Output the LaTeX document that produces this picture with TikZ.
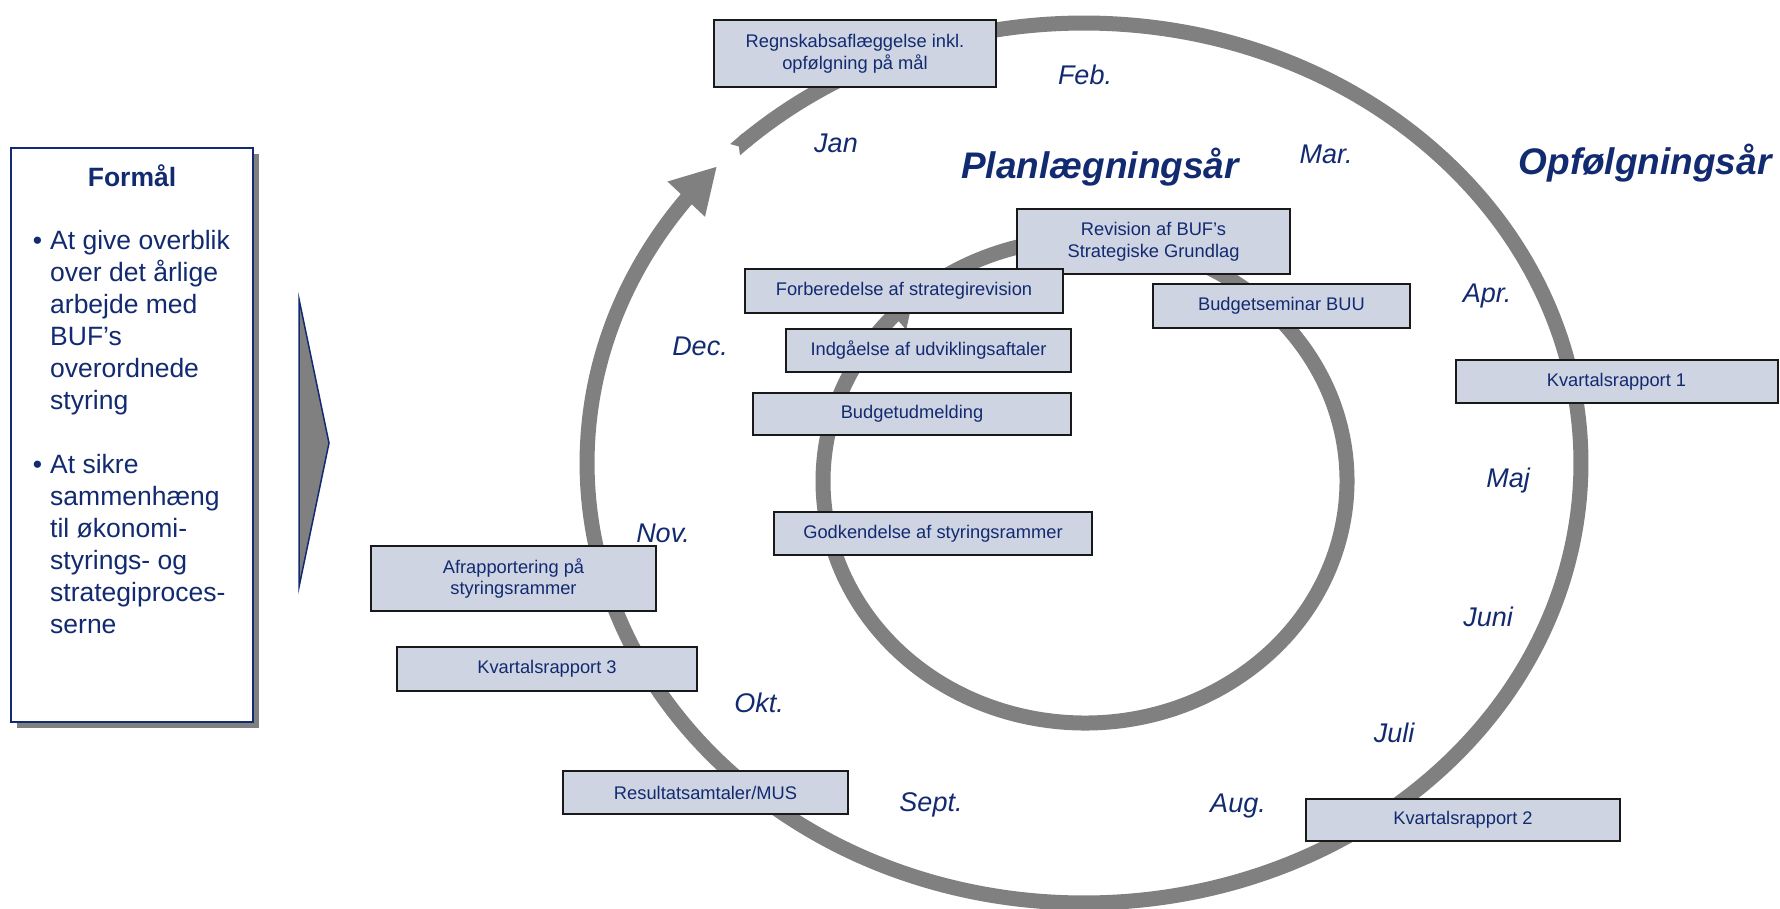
\documentclass[tikz,border=0pt]{standalone}
\usepackage{fontspec}
\setmainfont{Liberation Sans}
\usepackage{xcolor}
\usetikzlibrary{arrows.meta,bending,shadows}
\definecolor{navy}{RGB}{18,42,112}
\definecolor{boxfill}{RGB}{206,212,226}
\definecolor{ringgray}{RGB}{128,128,128}

\begin{document}
\begin{tikzpicture}[x=1pt, y=1pt,
    task/.style = {draw=black!90, line width=2pt, fill=boxfill, text=navy,
        font=\fontsize{18.3}{21.6}\selectfont, align=center, inner sep=0pt},
    month/.style = {text=navy, font=\itshape\fontsize{27}{32}\selectfont},
    year/.style = {text=navy, font=\bfseries\itshape\fontsize{37}{44}\selectfont},
    ring/.style = {draw=ringgray, line width=15pt}]
    \clip (0,0) rectangle (1780,-908);

    \node[draw=navy, line width=2pt, fill=white, minimum width=242pt, minimum height=574pt,
        drop shadow={shadow xshift=6pt, shadow yshift=-6pt, fill=ringgray, opacity=1}] (goal) at (132,-435) {};
    \node[text=navy, font=\bfseries\fontsize{26.5}{32}\selectfont] (goaltitle) at (132,-176) {Formål};
    \node[text=navy, font=\fontsize{26.5}{32}\selectfont, align=left, anchor=north west, inner sep=0pt] (aims) at (50,-230)
        {\llap{\textbullet\hspace{8pt}}At give overblik\\over det årlige\\arbejde med\\BUF’s\\overordnede\\styring\\[32pt]
         \llap{\textbullet\hspace{8pt}}At sikre\\sammenhæng\\til økonomi-\\styrings- og\\strategiproces-\\serne};
    \draw[navy, line width=1.5pt, fill=ringgray] (299,-299) -- (329,-443) -- (299,-587) -- cycle;

    \coordinate (outer) at (1084,-463);
    \coordinate (inner) at (1085,-481);
    \draw[ring, {Triangle Cap[reversed, length=5pt]}-{Triangle[length=45pt, width=48pt]}] (outer) ++(134.6:497pt and 440pt)
        arc[start angle=134.6, end angle=-222.4, x radius=497pt, y radius=440pt];
    \draw[ring, -{Triangle[length=26pt, width=36pt]}] (inner) ++(126:262pt and 242pt)
        arc[start angle=126, end angle=-229, x radius=262pt, y radius=242pt];

    \node[task, minimum width=282pt, minimum height=67pt] (regnskab) at (855,-53.5) {Regnskabsaflæggelse inkl.\\opfølgning på mål};
    \node[task, minimum width=273pt, minimum height=65pt] (revision) at (1153.5,-241.5) {Revision af BUF’s\\Strategiske Grundlag};
    \node[task, minimum width=318pt, minimum height=44pt] (forbered) at (904,-291) {Forberedelse af strategirevision};
    \node[task, minimum width=257pt, minimum height=44pt] (seminar) at (1281.5,-306) {Budgetseminar BUU};
    \node[task, minimum width=285pt, minimum height=43pt] (aftaler) at (928.5,-350.5) {Indgåelse af udviklingsaftaler};
    \node[task, minimum width=318pt, minimum height=42pt] (udmeld) at (912,-414) {Budgetudmelding};
    \node[task, minimum width=322pt, minimum height=43pt] (kvartal1) at (1616.5,-381.5) {Kvartalsrapport 1};
    \node[task, minimum width=318pt, minimum height=43pt] (godkend) at (933,-533.5) {Godkendelse af styringsrammer};
    \node[task, minimum width=285pt, minimum height=65pt] (afrap) at (513.5,-578.5) {Afrapportering på\\styringsrammer};
    \node[task, minimum width=300pt, minimum height=44pt] (kvartal3) at (547,-669) {Kvartalsrapport 3};
    \node[task, minimum width=285pt, minimum height=43pt] (samtaler) at (705.5,-792.5) {Resultatsamtaler/MUS};
    \node[task, minimum width=314pt, minimum height=42pt] (kvartal2) at (1463,-820) {Kvartalsrapport 2};

    \node[month] (jan) at (836,-143) {Jan};
    \node[month] (feb) at (1085,-75) {Feb.};
    \node[month] (mar) at (1326,-154) {Mar.};
    \node[month] (apr) at (1487,-296) {Apr.};
    \node[month] (maj) at (1508,-481) {Maj};
    \node[month] (jun) at (1488,-617) {Juni};
    \node[month] (jul) at (1394,-733) {Juli};
    \node[month] (aug) at (1238,-806) {Aug.};
    \node[month] (sep) at (931,-805) {Sept.};
    \node[month] (okt) at (759,-703) {Okt.};
    \node[month] (nov) at (663,-533) {Nov.};
    \node[month] (dec) at (700,-346) {Dec.};

    \node[year] (plan) at (1100,-167) {Planlægningsår};
    \node[year] (opf) at (1645,-163) {Opfølgningsår};
\end{tikzpicture}
\end{document}
